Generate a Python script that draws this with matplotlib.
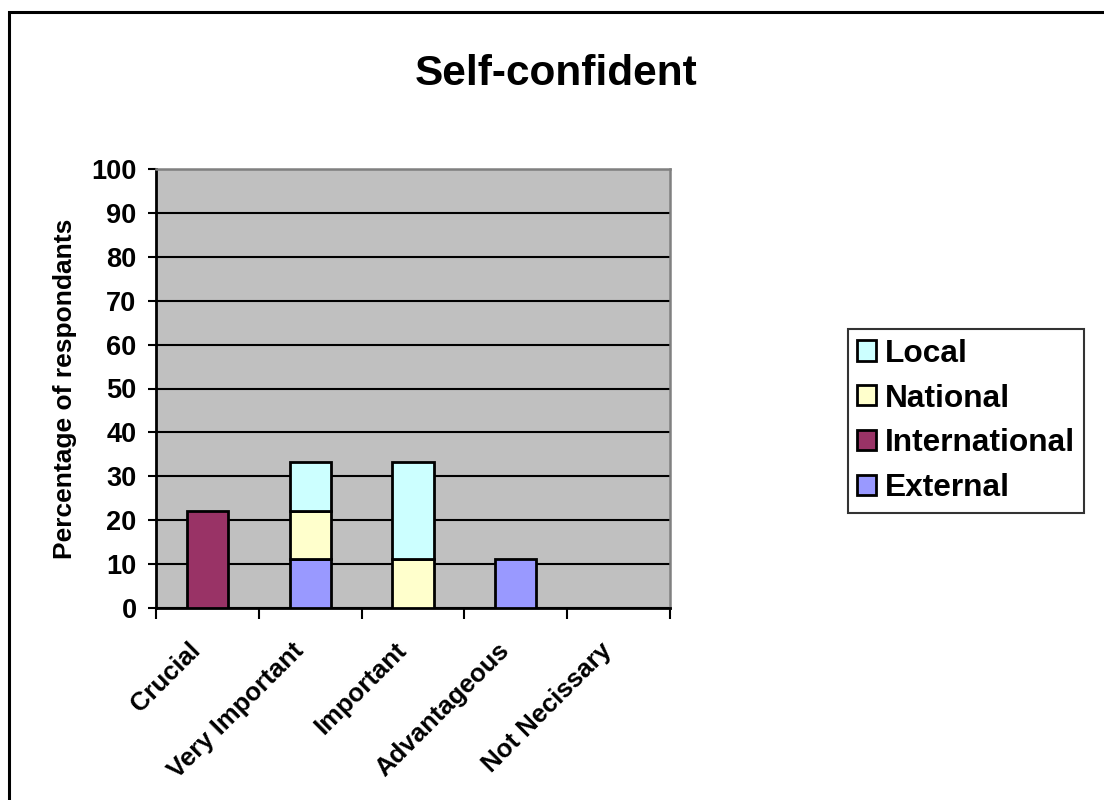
import matplotlib.pyplot as plt
import numpy as np
from matplotlib.patches import Rectangle

plt.rcParams['font.family'] = ['Liberation Sans', 'DejaVu Sans']
plt.rcParams['font.weight'] = 'bold'

categories = ["Crucial", "Very Important", "Important", "Advantageous", "Not Necissary"]
external = [0, 11.1, 0, 11.1, 0]
international = [22.2, 0, 0, 0, 0]
national = [0, 11.1, 11.1, 0, 0]
local = [0, 11.1, 22.2, 0, 0]

series = [
    ("External", external, "#9999FF"),
    ("International", international, "#993366"),
    ("National", national, "#FFFFCC"),
    ("Local", local, "#CCFFFF"),
]

fig = plt.figure(figsize=(11.04, 8), dpi=100)
ax = fig.add_axes([156 / 1104, 1 - 608 / 800, 514 / 1104, 439 / 800])
ax.set_facecolor("#C0C0C0")

x = np.arange(len(categories))
bottom = np.zeros(len(categories))
handles = {}
for name, vals, color in series:
    vals = np.array(vals)
    mask = vals > 0
    b = ax.bar(x[mask], vals[mask], bottom=bottom[mask], width=0.4,
               color=color, edgecolor="black", linewidth=2, zorder=3, label=name)
    handles[name] = b
    bottom += vals

ax.set_xlim(-0.5, len(categories) - 0.5)
ax.set_ylim(0, 100)
ax.set_yticks(range(0, 101, 10))
ax.yaxis.grid(True, color="black", linewidth=1.5)
ax.set_axisbelow(True)

ax.set_xticks(np.arange(len(categories) + 1) - 0.5)
ax.set_xticklabels([])
ax.tick_params(axis="x", length=8, width=1.5, color="black")
ax.tick_params(axis="y", length=6, width=1.5, labelsize=19.5, pad=8)
for t in ax.get_yticklabels():
    t.set_fontweight("bold")

for i, c in enumerate(categories):
    ax.text(i - 0.1, -8.8, c, rotation=45, ha="right", va="center",
            rotation_mode="anchor", fontsize=18.5, fontweight="bold",
            transform=ax.transData, clip_on=False)

for side in ["left", "bottom"]:
    ax.spines[side].set_color("black")
    ax.spines[side].set_linewidth(2)
for side in ["top", "right"]:
    ax.spines[side].set_color("#808080")
    ax.spines[side].set_linewidth(1.8)

ax.set_ylabel("Percentage of respondants", fontsize=19, fontweight="bold", labelpad=10)
fig.text(556 / 1104, 1 - 74 / 800, "Self-confident", fontsize=30.5, fontweight="bold",
         ha="center", va="center")

order = ["Local", "National", "International", "External"]
leg = fig.legend([handles[n] for n in order], order, loc="center",
                 bbox_to_anchor=(966 / 1104, 1 - 421 / 800), fontsize=22.8,
                 frameon=True, fancybox=False, edgecolor="black",
                 handlelength=0.6, handleheight=0.6, handletextpad=0.25,
                 labelspacing=0.47, borderpad=0.3, borderaxespad=0)
leg.get_frame().set_linewidth(1.5)
for t in leg.get_texts():
    t.set_fontweight("bold")

fig.patches.append(Rectangle((9 / 1104, -0.1), 1.2, 1.1 - 12 / 800,
                             transform=fig.transFigure, fill=False,
                             edgecolor="black", linewidth=2.2))

fig.savefig("out.png", dpi=100)
